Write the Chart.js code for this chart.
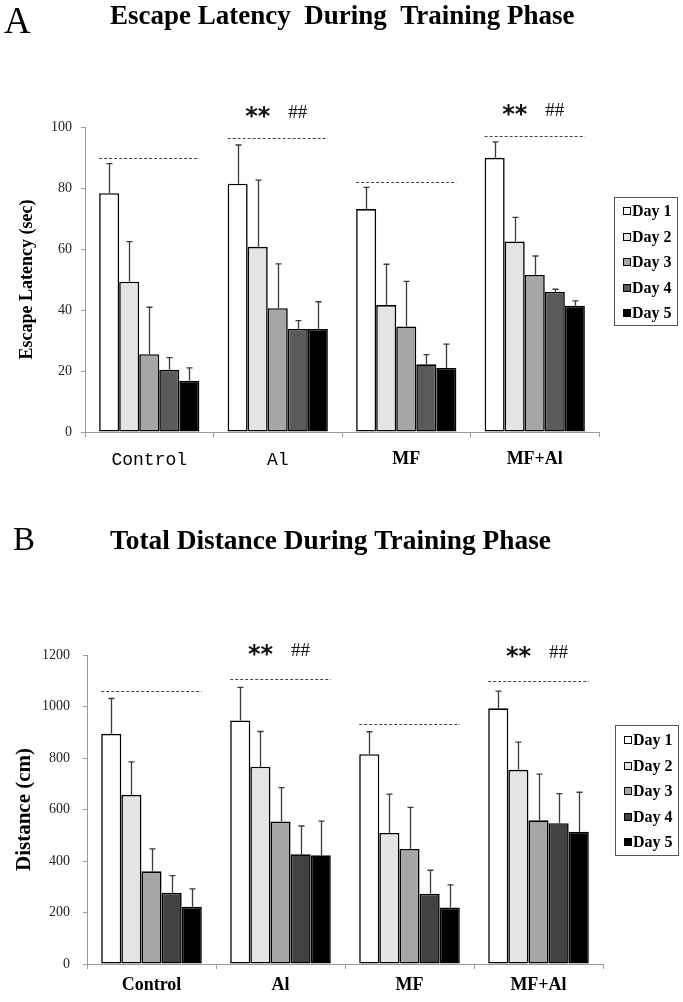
<!DOCTYPE html>
<html>
<head>
<meta charset="utf-8">
<script src="https://cdn.jsdelivr.net/npm/chart.js@4.4.1/dist/chart.umd.min.js"></script>
<style>
  body { margin: 0; background: #fff; }
  canvas { display: block; }
</style>
</head>
<body>
<canvas id="panelA" width="683" height="500"></canvas>
<canvas id="panelB" width="683" height="502"></canvas>
<script>
const groups = ["Control", "Al", "MF", "MF+Al"];
const days = ["Day 1", "Day 2", "Day 3", "Day 4", "Day 5"];

// escape latency (sec): one row per day, columns follow groups
const latencyMean = [
  [78.3, 81.4, 73.1, 89.9],
  [49.3, 60.7, 41.6, 62.5],
  [25.5, 40.6, 34.6, 51.5],
  [20.4, 33.8, 22.2, 45.9],
  [16.8, 33.8, 21.0, 41.4]
];
const latencySem = [
  [9.7, 12.7, 7.1, 5.2],
  [13.1, 21.9, 13.4, 7.9],
  [15.4, 14.5, 14.8, 6.2],
  [4.0, 2.7, 3.2, 0.9],
  [4.2, 8.9, 7.8, 1.6]
];
const latencySig = [90, 96.3, 81.9, 96.9]; // dashed lines over each group

// total distance (cm)
const distanceMean = [
  [894, 946, 815, 993],
  [657, 766, 509, 754],
  [360, 553, 447, 558],
  [277, 426, 273, 547],
  [222, 422, 219, 514]
];
const distanceSem = [
  [137, 128, 87, 67],
  [128, 137, 151, 108],
  [87, 132, 161, 179],
  [66, 110, 91, 115],
  [70, 133, 88, 153]
];
const distanceSig = [1060, 1108, 933, 1099];

const starMarks = ["", "**", "", "**"];
const hashMarks = ["", "##", "", "##"];

const serif = "'Liberation Serif', 'Times New Roman', serif";
const mono = "'Liberation Mono', monospace";

// draws error bars, dashed lines, marks, panel letter, title and the boxed legend
const extras = {
  id: "extras",
  afterDatasetsDraw(chart, args, o) {
    const ctx = chart.ctx;
    const y = chart.scales.y;
    ctx.save();
    ctx.strokeStyle = "#3a3a3a";
    ctx.lineWidth = 1.3;
    chart.data.datasets.forEach((ds, i) => {
      chart.getDatasetMeta(i).data.forEach((bar, j) => {
        const top = y.getPixelForValue(ds.data[j] + o.sem[i][j]);
        const x = Math.round(bar.x) + 0.5;
        ctx.beginPath();
        ctx.moveTo(x, bar.y);
        ctx.lineTo(x, top);
        ctx.moveTo(x - 3, top);
        ctx.lineTo(x + 3, top);
        ctx.stroke();
      });
    });

    const first = chart.getDatasetMeta(0).data;
    const last = chart.getDatasetMeta(chart.data.datasets.length - 1).data;
    o.sig.forEach((v, j) => {
      const yy = Math.round(y.getPixelForValue(v)) + 0.5;
      const x0 = first[j].x - first[j].width / 2;
      const x1 = last[j].x + last[j].width / 2;
      ctx.setLineDash([3, 2]);
      ctx.strokeStyle = "#444";
      ctx.lineWidth = 1;
      ctx.beginPath();
      ctx.moveTo(x0, yy);
      ctx.lineTo(x1, yy);
      ctx.stroke();
      ctx.setLineDash([]);
      const cx = (x0 + x1) / 2;
      ctx.fillStyle = "#111";
      ctx.textBaseline = "middle";
      ctx.textAlign = "center";
      if (starMarks[j]) {
        ctx.font = "bold 24px 'DejaVu Sans', sans-serif";
        ctx.fillText(starMarks[j], cx - 20, yy - o.markGap + 4);
      }
      if (hashMarks[j]) {
        ctx.font = "19px " + serif;
        ctx.fillText(hashMarks[j], cx + 20, yy - o.markGap);
      }
    });
    ctx.restore();
  },
  afterDraw(chart, args, o) {
    const ctx = chart.ctx;
    ctx.save();
    ctx.fillStyle = "#000";
    ctx.textAlign = "left";
    ctx.textBaseline = "alphabetic";
    ctx.font = o.letterSize + "px " + serif;
    ctx.fillText(o.letter, o.letterX, o.letterY);
    ctx.font = "bold " + o.titleSize + "px " + serif;
    ctx.fillText(o.title, 110, o.titleY, o.titleW);

    // legend box
    const L = o.legend;
    ctx.strokeStyle = "#555";
    ctx.lineWidth = 1;
    ctx.strokeRect(L.x + 0.5, L.y + 0.5, L.w, L.h);
    ctx.font = "bold 16px " + serif;
    ctx.textBaseline = "middle";
    days.forEach((d, i) => {
      const cy = Math.round(L.y + L.first + i * 25.5);
      ctx.fillStyle = o.colors[i];
      ctx.fillRect(L.x + 9, cy - 4, 8, 8);
      ctx.strokeStyle = "#000";
      ctx.strokeRect(L.x + 9.5, cy - 3.5, 7, 7);
      ctx.fillStyle = "#000";
      ctx.fillText(d, L.x + 18, cy + 1);
    });
    ctx.restore();
  }
};

function makePanel(id, p) {
  const canvas = document.getElementById(id);
  return new Chart(canvas, {
    type: "bar",
    data: {
      labels: groups,
      datasets: days.map((d, i) => ({
        label: d,
        data: p.mean[i],
        backgroundColor: p.colors[i],
        borderColor: "#000",
        borderWidth: 1.6,
        borderSkipped: false,
        categoryPercentage: 0.78,
        barPercentage: 1
      }))
    },
    options: {
      responsive: false,
      animation: false,
      layout: { padding: { top: p.area.top, right: 683 - p.area.right, left: 0, bottom: 0 } },
      scales: {
        x: {
          ticks: { color: "#000", font: p.xFont, padding: p.xPad },
          grid: { offset: true, drawOnChartArea: false, tickLength: 5, color: "#999" },
          border: { color: "#999" },
          afterFit(s) { s.height = canvas.height - p.area.bottom; }
        },
        y: {
          min: 0,
          max: p.yMax,
          ticks: {
            stepSize: p.step,
            color: "#222",
            font: { family: serif, size: 14 },
            padding: p.yPad,
            callback: (v) => String(v)
          },
          grid: { drawOnChartArea: false, tickLength: 4, color: "#999" },
          border: { color: "#999" },
          title: {
            display: true,
            text: p.yTitle,
            color: "#000",
            font: { family: serif, size: p.yTitleSize, weight: "bold" },
            padding: { top: p.yTitlePad, bottom: 0 }
          },
          afterFit(s) { s.width = p.area.left; }
        }
      },
      plugins: {
        legend: { display: false },
        tooltip: { enabled: false },
        extras: p
      }
    },
    plugins: [extras]
  });
}

makePanel("panelA", {
  letter: "A", letterSize: 37, letterX: 4, letterY: 33,
  title: "Escape Latency  During  Training Phase", titleSize: 27, titleY: 24, titleW: 471,
  mean: latencyMean, sem: latencySem, sig: latencySig, markGap: 25,
  yMax: 100, step: 20, yTitle: "Escape Latency (sec)", yTitleSize: 18, yTitlePad: 17, yPad: 9,
  area: { left: 85, top: 127, right: 599, bottom: 432 },
  xPad: 12,
  xFont: (c) => c.index < 2 ? { family: mono, size: 18 } : { family: serif, size: 18, weight: "bold" },
  colors: ["#ffffff", "#e4e4e4", "#a6a6a6", "#5a5a5a", "#000000"],
  legend: { x: 614, y: 197, w: 63, h: 128, first: 14 }
});

makePanel("panelB", {
  letter: "B", letterSize: 33, letterX: 13, letterY: 50,
  title: "Total Distance During Training Phase", titleSize: 28, titleY: 49, titleW: 441,
  mean: distanceMean, sem: distanceSem, sig: distanceSig, markGap: 28,
  yMax: 1200, step: 200, yTitle: "Distance (cm)", yTitleSize: 21, yTitlePad: 12, yPad: 13,
  area: { left: 87, top: 155, right: 603, bottom: 464 },
  xPad: 6,
  xFont: { family: serif, size: 18, weight: "bold" },
  colors: ["#ffffff", "#e4e4e4", "#a6a6a6", "#424242", "#000000"],
  legend: { x: 615, y: 225, w: 63, h: 130, first: 15 }
});
</script>
</body>
</html>
